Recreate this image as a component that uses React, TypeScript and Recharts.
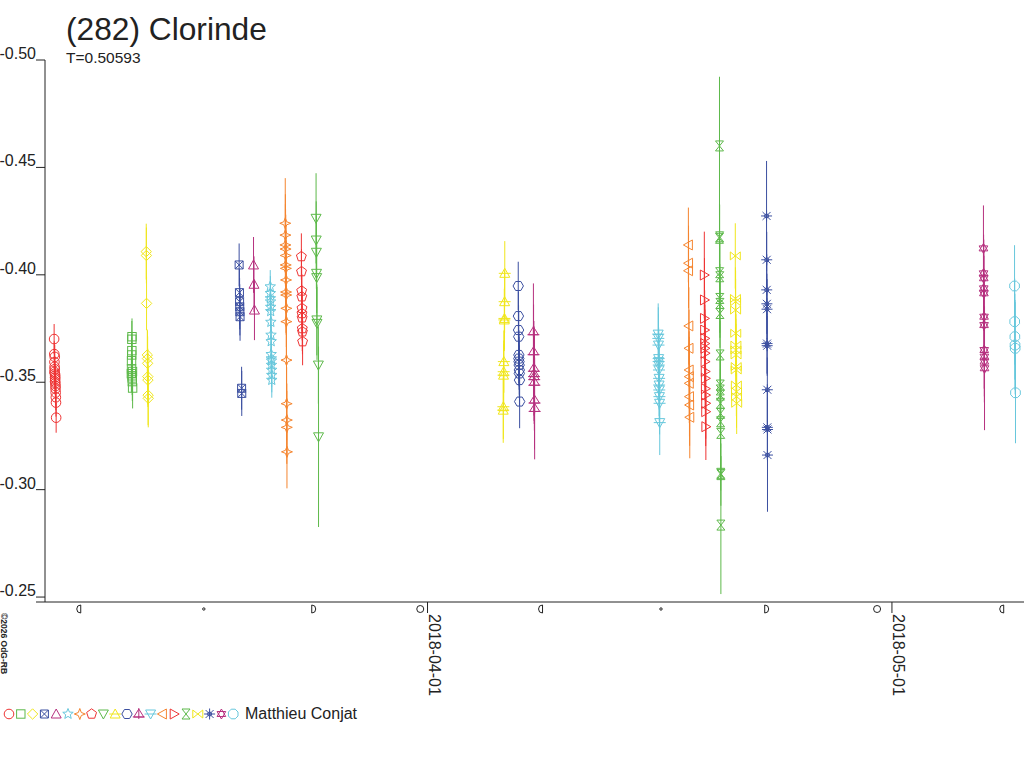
import React from 'react';
import { ScatterChart, Scatter, XAxis, YAxis, ErrorBar, Legend } from 'recharts';

const FONT = '"Liberation Sans", Arial, sans-serif';
const INK = '#222';

const title = '(282) Clorinde';
const periodLabel = 'T=0.50593';
const observer = 'Matthieu Conjat';
const credit = '©2026 OdG-RB';

// [days from 2018-04-01 00:00 UT, reduced magnitude, error]
const s01 = [
  [-24.12, -0.3701, 0.007], [-24.11, -0.3631, 0.006], [-24.10, -0.3548, 0.006], [-24.10, -0.3594, 0.0055],
  [-24.09, -0.3572, 0.006], [-24.08, -0.3618, 0.0055], [-24.08, -0.3561, 0.006], [-24.07, -0.354, 0.0055],
  [-24.06, -0.3503, 0.006], [-24.06, -0.3522, 0.0055], [-24.05, -0.3514, 0.006], [-24.05, -0.3531, 0.0055],
  [-24.04, -0.3495, 0.006], [-24.03, -0.3482, 0.0055], [-24.03, -0.347, 0.006], [-24.02, -0.3452, 0.006],
  [-24.01, -0.343, 0.006], [-24.00, -0.3405, 0.0065], [-23.99, -0.3335, 0.007],
];
const s02 = [
  [-19.13, -0.354, 0.0085], [-19.12, -0.3562, 0.008], [-19.12, -0.36, 0.008], [-19.11, -0.3627, 0.008],
  [-19.10, -0.3647, 0.008], [-19.10, -0.37, 0.0085], [-19.09, -0.3712, 0.0085], [-19.08, -0.353, 0.008],
  [-19.08, -0.352, 0.008], [-19.07, -0.3503, 0.009], [-19.06, -0.355, 0.008], [-19.05, -0.3473, 0.0095],
];
const s03 = [
  [-18.17, -0.4108, 0.013], [-18.16, -0.409, 0.013], [-18.15, -0.3867, 0.0125], [-18.10, -0.3627, 0.0118],
  [-18.09, -0.361, 0.013], [-18.08, -0.3588, 0.0125], [-18.07, -0.3526, 0.013], [-18.06, -0.351, 0.0125],
  [-18.05, -0.344, 0.014], [-18.04, -0.3425, 0.0135],
];
const s04 = [
  [-12.17, -0.4046, 0.01], [-12.15, -0.3917, 0.011], [-12.14, -0.3875, 0.011], [-12.13, -0.3851, 0.0105],
  [-12.12, -0.3828, 0.011], [-12.11, -0.3805, 0.0112], [-12.01, -0.3472, 0.01], [-12.00, -0.3448, 0.0105],
];
const s05 = [
  [-11.24, -0.4046, 0.013], [-11.21, -0.3956, 0.013], [-11.18, -0.3836, 0.014],
];
const s06 = [
  [-10.16, -0.3945, 0.0077], [-10.15, -0.3914, 0.008], [-10.15, -0.389, 0.008], [-10.14, -0.3875, 0.008],
  [-10.13, -0.385, 0.0078], [-10.13, -0.383, 0.008], [-10.12, -0.378, 0.008], [-10.11, -0.372, 0.008],
  [-10.10, -0.369, 0.008], [-10.10, -0.363, 0.008], [-10.09, -0.361, 0.008], [-10.08, -0.36, 0.008],
  [-10.08, -0.358, 0.008], [-10.07, -0.3557, 0.008], [-10.06, -0.3533, 0.008], [-10.06, -0.351, 0.0082],
];
const s07 = [
  [-9.19, -0.424, 0.021], [-9.18, -0.4185, 0.019], [-9.18, -0.4139, 0.019], [-9.17, -0.412, 0.0185],
  [-9.16, -0.409, 0.019], [-9.16, -0.4046, 0.0185], [-9.15, -0.403, 0.019], [-9.14, -0.3976, 0.0185],
  [-9.14, -0.392, 0.019], [-9.13, -0.3906, 0.0185], [-9.12, -0.3844, 0.018], [-9.12, -0.3782, 0.018],
  [-9.11, -0.3603, 0.017], [-9.10, -0.34, 0.017], [-9.09, -0.3324, 0.017], [-9.09, -0.329, 0.017],
  [-9.08, -0.3176, 0.017],
];
const s08 = [
  [-8.15, -0.4085, 0.0108], [-8.14, -0.4015, 0.0105], [-8.13, -0.3925, 0.0105], [-8.12, -0.3898, 0.0105],
  [-8.11, -0.3844, 0.0105], [-8.11, -0.382, 0.01], [-8.10, -0.38, 0.0105], [-8.09, -0.375, 0.0105],
  [-8.08, -0.3735, 0.0105], [-8.07, -0.3689, 0.011],
];
const s09 = [
  [-7.20, -0.4263, 0.021], [-7.19, -0.4162, 0.018], [-7.18, -0.4105, 0.017], [-7.17, -0.4007, 0.016],
  [-7.16, -0.3987, 0.0165], [-7.15, -0.379, 0.0165], [-7.14, -0.3774, 0.017], [-7.05, -0.358, 0.018],
  [-7.04, -0.3246, 0.042],
];
const s10 = [
  [4.99, -0.4007, 0.015], [4.98, -0.3875, 0.0145], [4.97, -0.3797, 0.0145], [4.96, -0.379, 0.0145],
  [4.93, -0.3596, 0.0145], [4.92, -0.3549, 0.0145], [4.91, -0.3533, 0.0145], [4.90, -0.3386, 0.015],
  [4.89, -0.337, 0.0152],
];
const s11 = [
  [5.86, -0.3948, 0.0113], [5.87, -0.3808, 0.0115], [5.88, -0.3743, 0.0115], [5.89, -0.3712, 0.0115],
  [5.90, -0.3627, 0.0115], [5.90, -0.361, 0.0115], [5.91, -0.3596, 0.0115], [5.92, -0.358, 0.0115],
  [5.93, -0.3557, 0.0115], [5.93, -0.3541, 0.0115], [5.94, -0.351, 0.012], [5.95, -0.341, 0.0124],
];
const s12 = [
  [6.84, -0.3735, 0.0225], [6.85, -0.3642, 0.022], [6.87, -0.3565, 0.022], [6.88, -0.354, 0.022],
  [6.89, -0.3526, 0.022], [6.90, -0.35, 0.0225], [6.91, -0.3417, 0.023], [6.92, -0.3378, 0.0237],
];
const s13 = [
  [14.90, -0.3724, 0.0143], [14.91, -0.3704, 0.0145], [14.92, -0.3673, 0.0145], [14.93, -0.361, 0.0145],
  [14.93, -0.3596, 0.0145], [14.94, -0.358, 0.0145], [14.95, -0.3557, 0.0145], [14.96, -0.3518, 0.0145],
  [14.96, -0.3487, 0.0145], [14.97, -0.3464, 0.0145], [14.98, -0.3433, 0.0145], [14.99, -0.3402, 0.0145],
  [15.00, -0.3312, 0.0151],
];
const s14 = [
  [16.85, -0.4139, 0.0174], [16.86, -0.4054, 0.0175], [16.86, -0.4019, 0.0175], [16.88, -0.3762, 0.018],
  [16.89, -0.3658, 0.018], [16.90, -0.3557, 0.018], [16.91, -0.3526, 0.0185], [16.91, -0.3495, 0.0185],
  [16.92, -0.3433, 0.0185], [16.93, -0.3394, 0.019], [16.94, -0.3337, 0.0191],
];
const s15 = [
  [17.88, -0.3999, 0.0202], [17.89, -0.3883, 0.0195], [17.89, -0.3797, 0.019], [17.90, -0.3743, 0.0185],
  [17.91, -0.3704, 0.0185], [17.91, -0.368, 0.018], [17.92, -0.3658, 0.018], [17.93, -0.3635, 0.018],
  [17.93, -0.3596, 0.0175], [17.94, -0.355, 0.0175], [17.95, -0.3518, 0.017], [17.95, -0.347, 0.017],
  [17.96, -0.344, 0.0165], [17.97, -0.3402, 0.0165], [17.97, -0.3363, 0.016], [17.98, -0.3293, 0.0155],
];
const s16 = [
  [18.86, -0.46, 0.0322], [18.86, -0.417, 0.016], [18.87, -0.4177, 0.015], [18.87, -0.401, 0.016],
  [18.88, -0.3991, 0.016], [18.88, -0.389, 0.016], [18.89, -0.3867, 0.016], [18.89, -0.382, 0.016],
  [18.90, -0.3627, 0.016], [18.91, -0.3487, 0.016], [18.91, -0.3464, 0.016], [18.92, -0.344, 0.016],
  [18.92, -0.3402, 0.016], [18.93, -0.3355, 0.016], [18.93, -0.3316, 0.016], [18.94, -0.3262, 0.022],
  [18.94, -0.3076, 0.008], [18.95, -0.307, 0.0145], [18.95, -0.2835, 0.0321],
];
const s17 = [
  [19.88, -0.4088, 0.0152], [19.89, -0.389, 0.0145], [19.90, -0.3875, 0.0145], [19.90, -0.3836, 0.0145],
  [19.91, -0.3728, 0.0145], [19.92, -0.3673, 0.0145], [19.92, -0.365, 0.0145], [19.93, -0.3627, 0.0145],
  [19.94, -0.3573, 0.0145], [19.94, -0.3557, 0.0145], [19.95, -0.3487, 0.0145], [19.96, -0.3456, 0.0145],
  [19.96, -0.3433, 0.0145], [19.97, -0.3402, 0.0143],
];
const s18 = [
  [21.90, -0.4274, 0.0256], [21.91, -0.407, 0.013], [21.91, -0.393, 0.014], [21.92, -0.3865, 0.014],
  [21.93, -0.384, 0.014], [21.93, -0.368, 0.014], [21.94, -0.367, 0.014], [21.95, -0.3465, 0.015],
  [21.95, -0.329, 0.015], [21.96, -0.328, 0.015], [21.96, -0.3161, 0.0264],
];
const s19 = [
  [35.91, -0.4123, 0.02], [35.92, -0.4007, 0.018], [35.93, -0.3984, 0.018], [35.93, -0.3937, 0.0175],
  [35.94, -0.3914, 0.0175], [35.95, -0.3805, 0.0175], [35.95, -0.3766, 0.0175], [35.96, -0.365, 0.018],
  [35.97, -0.3619, 0.0185], [35.97, -0.3596, 0.019], [35.98, -0.3565, 0.0288],
];
const s20 = [
  [37.92, -0.3948, 0.019], [37.93, -0.3782, 0.02], [37.94, -0.3712, 0.02], [37.95, -0.3673, 0.021],
  [37.96, -0.3658, 0.0215], [37.98, -0.3451, 0.0235],
];

const sessions = [s01, s02, s03, s04, s05, s06, s07, s08, s09, s10, s11, s12, s13, s14, s15, s16, s17, s18, s19, s20];

const RED = '#ee3434';
const GREEN = '#5db94a';
const YELLOW = '#f0e61c';
const BLUE = '#3b4fa0';
const MAGENTA = '#b6317f';
const CYAN = '#67c7dc';
const ORANGE = '#f5852f';

const sessionColors = [
  RED, GREEN, YELLOW, BLUE, MAGENTA, CYAN, ORANGE,
  RED, GREEN, YELLOW, BLUE, MAGENTA, CYAN, ORANGE,
  RED, GREEN, YELLOW, BLUE, MAGENTA, CYAN,
];
const sessionSymbols = [
  'circle', 'square', 'diamond', 'squareX', 'triUp', 'star5', 'star4', 'pentagon', 'triDown', 'triBar',
  'hexagon', 'triCross', 'triDownBar', 'triLeft', 'triRight', 'hourglass', 'bowtie', 'asterisk', 'hexagram', 'octagon',
];

const yTicks = [-0.5, -0.45, -0.4, -0.35, -0.3, -0.25];
const yDomain = [-0.5, -0.2477];
const xDomain = [-24.71, 38.53];
const monthTicks = [0, 30];
const monthLabels = ['2018-04-01', '2018-05-01'];
const moonDays = [-22.53, -14.45, -7.35, -0.47, 7.3, 15.08, 21.91, 29.04, 37.09];
const moonKinds = ['last', 'new', 'first', 'full', 'last', 'new', 'first', 'full', 'last'];

const xTicks = [...moonDays, ...monthTicks].sort((a, b) => a - b);

const polygon = (n: number, r: number, rot = -Math.PI / 2) =>
  Array.from({ length: n }, (_, k) => {
    const a = rot + (k * 2 * Math.PI) / n;
    return `${(r * Math.cos(a)).toFixed(2)},${(r * Math.sin(a)).toFixed(2)}`;
  }).join(' ');

const starPoints = (n: number, ro: number, ri: number) =>
  Array.from({ length: n * 2 }, (_, k) => {
    const a = -Math.PI / 2 + (k * Math.PI) / n;
    const r = k % 2 === 0 ? ro : ri;
    return `${(r * Math.cos(a)).toFixed(2)},${(r * Math.sin(a)).toFixed(2)}`;
  }).join(' ');

const Marker = ({ kind, cx, cy, color }: { kind: string; cx: number; cy: number; color: string }) => {
  const st = { fill: 'none', stroke: color, strokeWidth: 1 };
  let el: React.ReactNode = null;
  switch (kind) {
    case 'circle':
      el = <circle r={4.8} {...st} />;
      break;
    case 'square':
      el = <rect x={-4.2} y={-4.2} width={8.4} height={8.4} {...st} />;
      break;
    case 'diamond':
      el = <path d="M0,-5.2 L5.2,0 L0,5.2 L-5.2,0 Z" {...st} />;
      break;
    case 'squareX':
      el = <path d="M-4,-4 L4,-4 L4,4 L-4,4 Z M-4,-4 L4,4 M4,-4 L-4,4" {...st} />;
      break;
    case 'triUp':
      el = <path d="M0,-5 L5,4 L-5,4 Z" {...st} />;
      break;
    case 'star5':
      el = <polygon points={starPoints(5, 5.5, 2.4)} {...st} />;
      break;
    case 'star4':
      el = <path d="M0,-5.5 L1.5,-1.5 L5.5,0 L1.5,1.5 L0,5.5 L-1.5,1.5 L-5.5,0 L-1.5,-1.5 Z" {...st} />;
      break;
    case 'pentagon':
      el = <polygon points={polygon(5, 5.2)} {...st} />;
      break;
    case 'triDown':
      el = <path d="M-5,-4 L5,-4 L0,5 Z" {...st} />;
      break;
    case 'triBar':
      el = <path d="M0,-5 L5,4 L-5,4 Z M-6,0 L6,0" {...st} />;
      break;
    case 'hexagon':
      el = <polygon points={polygon(6, 5.2, 0)} {...st} />;
      break;
    case 'triCross':
      el = <path d="M0,-5 L5,3 L-5,3 Z M0,-6 L0,5 M-6,3 L6,3" {...st} />;
      break;
    case 'triDownBar':
      el = <path d="M-5,-4 L5,-4 L0,5 Z M-6,0 L6,0" {...st} />;
      break;
    case 'triLeft':
      el = <path d="M-5,0 L4,-5 L4,5 Z" {...st} />;
      break;
    case 'triRight':
      el = <path d="M5,0 L-4,-5 L-4,5 Z" {...st} />;
      break;
    case 'hourglass':
      el = <path d="M-4,-5 L4,-5 L-4,5 L4,5 Z" {...st} />;
      break;
    case 'bowtie':
      el = <path d="M-5,-4 L5,4 L5,-4 L-5,4 Z" {...st} />;
      break;
    case 'asterisk':
      el = (
        <g {...st}>
          <path d="M0,-5.5 L0,5.5 M-5.5,0 L5.5,0 M-4,-4 L4,4 M4,-4 L-4,4" />
          <circle r={2} />
        </g>
      );
      break;
    case 'hexagram':
      el = (
        <g {...st}>
          <polygon points={polygon(3, 5)} />
          <polygon points={polygon(3, 5, Math.PI / 2)} />
        </g>
      );
      break;
    default:
      el = <polygon points={polygon(8, 5.2, Math.PI / 8)} {...st} />;
  }
  return <g transform={`translate(${cx},${cy})`}>{el}</g>;
};

const MoonGlyph = ({ kind }: { kind: string }) => {
  const st = { fill: 'none', stroke: INK, strokeWidth: 1 };
  if (kind === 'full') return <circle r={3.5} {...st} />;
  if (kind === 'new') return <circle r={1.2} {...st} />;
  if (kind === 'first') return <path d="M-2,-4 A4,4 0 0,1 -2,4 Z" {...st} />;
  return <path d="M2,-4 A4,4 0 0,0 2,4 Z" {...st} />;
};

const renderXTick = (props: any) => {
  const { x, y, payload } = props;
  const v = payload.value;
  const mi = moonDays.indexOf(v);
  if (mi >= 0) {
    return (
      <g transform={`translate(${x},${y + 7})`}>
        <MoonGlyph kind={moonKinds[mi]} />
      </g>
    );
  }
  const li = monthTicks.indexOf(v);
  return (
    <g>
      <line x1={x} y1={y} x2={x} y2={y + 11} stroke={INK} />
      <text
        transform={`translate(${x + 1.5},${y + 12}) rotate(90)`}
        fontSize={16}
        fontFamily={FONT}
        fill={INK}
        textAnchor="start"
      >
        {monthLabels[li]}
      </text>
    </g>
  );
};

const renderYTick = (props: any) => {
  const { x, y, payload } = props;
  return (
    <text x={x} y={y - 1} textAnchor="end" fontSize={16} fontFamily={FONT} fill={INK}>
      {Number(payload.value).toFixed(2)}
    </text>
  );
};

const renderLegend = () => (
  <div style={{ display: 'flex', alignItems: 'center', fontFamily: FONT, fontSize: 16, color: INK, whiteSpace: 'nowrap' }}>
    <svg width={240} height={14}>
      {sessionSymbols.map((k, i) => (
        <Marker key={k} kind={k} cx={9 + i * 11.8} cy={7} color={sessionColors[i]} />
      ))}
    </svg>
    <span style={{ marginLeft: 5 }}>{observer}</span>
  </div>
);

const App = () => {
  return (
    <div style={{ position: 'absolute', left: 0, top: 0, width: 1024, height: 768, background: '#fff' }}>
      <ScatterChart width={1024} height={768} margin={{ top: 60, right: 0, bottom: 66, left: 0 }}>
        <XAxis
          type="number"
          dataKey="day"
          domain={xDomain}
          allowDataOverflow
          ticks={xTicks}
          interval={0}
          tickLine={false}
          tickSize={0}
          tickMargin={0}
          tick={renderXTick}
          height={100}
          axisLine={{ stroke: INK }}
        />
        <YAxis
          type="number"
          dataKey="mag"
          domain={yDomain}
          allowDataOverflow
          reversed
          ticks={yTicks}
          interval={0}
          tickSize={9}
          tickMargin={0}
          tick={renderYTick}
          width={45}
          axisLine={{ stroke: INK }}
          tickLine={{ stroke: INK }}
        />
        {sessions.map((pts, i) => (
          <Scatter
            key={i}
            name={`session ${i + 1}`}
            data={pts.map(([day, mag, err]) => ({ day, mag, err }))}
            isAnimationActive={false}
            shape={(p: any) => <Marker kind={sessionSymbols[i]} cx={p.cx} cy={p.cy} color={sessionColors[i]} />}
          >
            <ErrorBar dataKey="err" direction="y" width={0} stroke={sessionColors[i]} strokeWidth={1} isAnimationActive={false} />
          </Scatter>
        ))}
        <Legend
          layout="horizontal"
          align="center"
          verticalAlign="middle"
          content={renderLegend}
          wrapperStyle={{ left: 0, top: 705, width: 400 }}
        />
        {/* x axis runs a little past the y axis, under the tick labels */}
        <line x1={36} y1={602} x2={45} y2={602} stroke={INK} />
        <text x={66} y={40} fontSize={31.7} fontFamily={FONT} fill={INK}>{title}</text>
        <text x={66} y={63} fontSize={15.5} fontFamily={FONT} fill={INK}>{periodLabel}</text>
        <text transform="translate(1,613) rotate(90)" fontSize={8.5} fontWeight="bold" fontFamily={FONT} fill={INK}>
          {credit}
        </text>
      </ScatterChart>
    </div>
  );
};

export default App;
